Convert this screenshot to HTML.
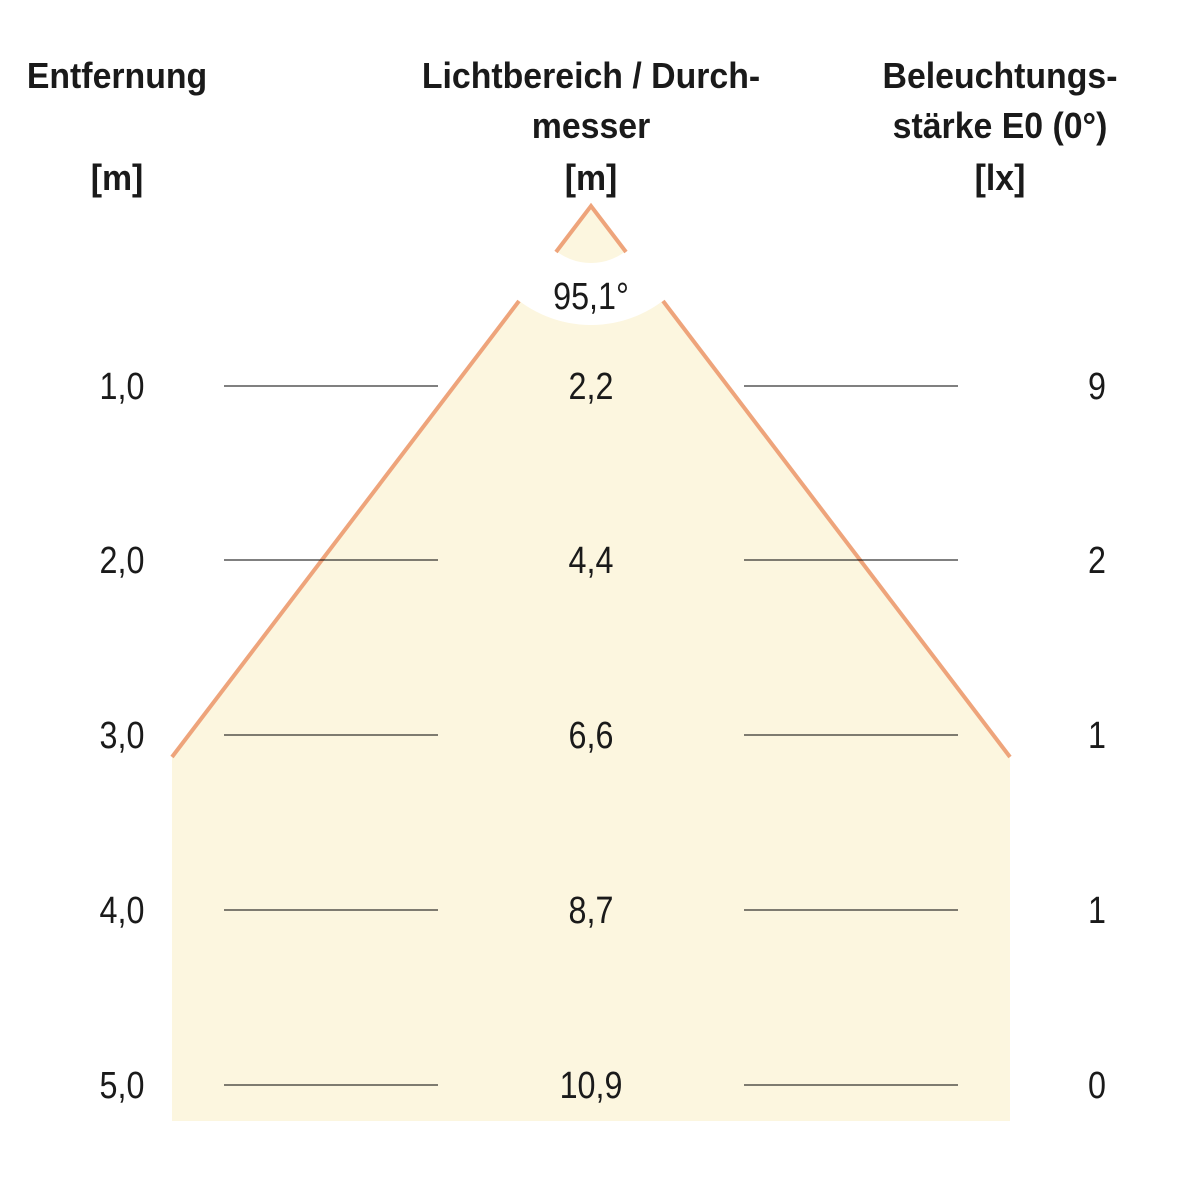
<!DOCTYPE html>
<html><head><style>body{margin:0;background:#fff}</style></head><body>
<svg width="1182" height="1182" viewBox="0 0 1182 1182" xmlns="http://www.w3.org/2000/svg" style="display:block">
<polygon points="591,206 172,757 172,1121 1010,1121 1010,757" fill="#fcf6df"/>
<circle cx="591" cy="206" r="88" fill="none" stroke="#fff" stroke-width="62"/>
<g stroke="#eea47b" stroke-width="4" fill="none">
<polyline points="556,252 591,206 626,252"/>
<line x1="519" y1="301" x2="172" y2="757"/>
<line x1="663" y1="301" x2="1010" y2="757"/>
</g>
<g stroke="#000" stroke-width="1">
<line x1="224" y1="386" x2="438" y2="386"/><line x1="744" y1="386" x2="958" y2="386"/>
<line x1="224" y1="560" x2="438" y2="560"/><line x1="744" y1="560" x2="958" y2="560"/>
<line x1="224" y1="735" x2="438" y2="735"/><line x1="744" y1="735" x2="958" y2="735"/>
<line x1="224" y1="910" x2="438" y2="910"/><line x1="744" y1="910" x2="958" y2="910"/>
<line x1="224" y1="1085" x2="438" y2="1085"/><line x1="744" y1="1085" x2="958" y2="1085"/>
</g>
<g font-family="Liberation Sans, sans-serif" fill="#1a1a1a" text-anchor="middle">
<g font-weight="bold" font-size="36">
<text transform="translate(117,88) scale(0.94,1)">Entfernung</text>
<text transform="translate(117,190) scale(0.94,1)">[m]</text>
<text transform="translate(591,88) scale(0.94,1)">Lichtbereich / Durch-</text>
<text transform="translate(591,138) scale(0.94,1)">messer</text>
<text transform="translate(591,190) scale(0.94,1)">[m]</text>
<text transform="translate(1000,88) scale(0.94,1)">Beleuchtungs-</text>
<text transform="translate(1000,138) scale(0.94,1)">stärke E0 (0°)</text>
<text transform="translate(1000,190) scale(0.94,1)">[lx]</text>
</g>
<g font-size="38">
<text transform="translate(591,309) scale(0.85,1)">95,1°</text>
<text transform="translate(122,399) scale(0.85,1)">1,0</text>
<text transform="translate(122,573) scale(0.85,1)">2,0</text>
<text transform="translate(122,748) scale(0.85,1)">3,0</text>
<text transform="translate(122,923) scale(0.85,1)">4,0</text>
<text transform="translate(122,1098) scale(0.85,1)">5,0</text>
<text transform="translate(591,399) scale(0.85,1)">2,2</text>
<text transform="translate(591,573) scale(0.85,1)">4,4</text>
<text transform="translate(591,748) scale(0.85,1)">6,6</text>
<text transform="translate(591,923) scale(0.85,1)">8,7</text>
<text transform="translate(591,1098) scale(0.85,1)">10,9</text>
<text transform="translate(1097,399) scale(0.85,1)">9</text>
<text transform="translate(1097,573) scale(0.85,1)">2</text>
<text transform="translate(1097,748) scale(0.85,1)">1</text>
<text transform="translate(1097,923) scale(0.85,1)">1</text>
<text transform="translate(1097,1098) scale(0.85,1)">0</text>
</g>
</g>
</svg>
</body></html>
